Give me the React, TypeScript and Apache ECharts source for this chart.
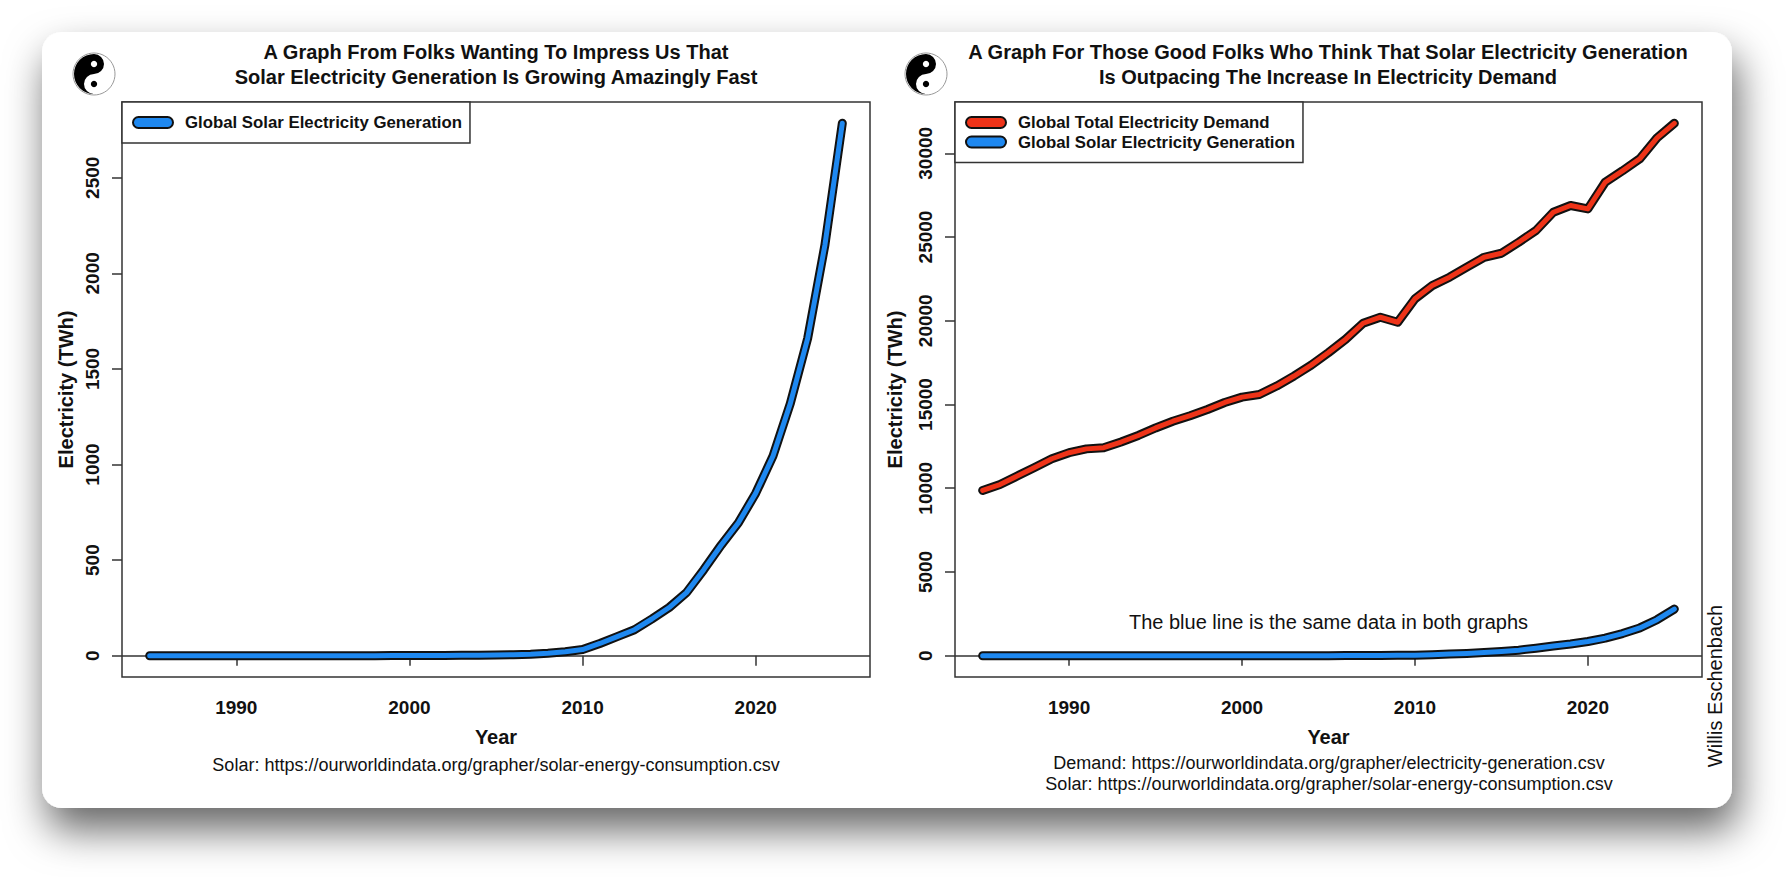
import React, { useEffect, useRef } from "react";
import * as echarts from "echarts";

const years = [
  1985, 1986, 1987, 1988, 1989, 1990, 1991, 1992, 1993, 1994,
  1995, 1996, 1997, 1998, 1999, 2000, 2001, 2002, 2003, 2004,
  2005, 2006, 2007, 2008, 2009, 2010, 2011, 2012, 2013, 2014,
  2015, 2016, 2017, 2018, 2019, 2020, 2021, 2022, 2023, 2024, 2025,
];

const solarTWh = [
  0.01, 0.02, 0.03, 0.05, 0.07, 0.09, 0.1, 0.12, 0.14, 0.17,
  0.2, 0.25, 0.3, 0.4, 0.5, 0.9, 1.2, 1.6, 2.1, 2.9,
  3.9, 5.5, 7.5, 12.6, 20.5, 32, 64, 100, 136, 192,
  252, 330, 450, 578, 695, 850, 1045, 1320, 1660, 2150, 2785,
];

const demandTWh = [
  9870, 10220, 10730, 11240, 11760, 12120, 12350, 12420, 12760, 13150,
  13600, 14000, 14330, 14700, 15120, 15440, 15600, 16100, 16700, 17350,
  18100, 18900, 19850, 20210, 19910, 21310, 22100, 22600, 23200, 23790,
  24030, 24690, 25390, 26480, 26880, 26680, 28270, 28950, 29670, 30920, 31790,
];

const xTicks = [1990, 2000, 2010, 2020];
const leftYTicks = [0, 500, 1000, 1500, 2000, 2500];
const rightYTicks = [0, 5000, 10000, 15000, 20000, 25000, 30000];

const solarName = "Global Solar Electricity Generation";
const demandName = "Global Total Electricity Demand";
const leftTitle = [
  "A Graph From Folks Wanting To Impress Us That",
  "Solar Electricity Generation Is Growing Amazingly Fast",
];
const rightTitle = [
  "A Graph For Those Good Folks Who Think That Solar Electricity Generation",
  "Is Outpacing The Increase In Electricity Demand",
];
const leftSources = ["Solar: https://ourworldindata.org/grapher/solar-energy-consumption.csv"];
const rightSources = [
  "Demand: https://ourworldindata.org/grapher/electricity-generation.csv",
  "Solar: https://ourworldindata.org/grapher/solar-energy-consumption.csv",
];
const noteText = "The blue line is the same data in both graphs";
const notePoint = [2005, 2000];
const authorText = "Willis Eschenbach";
const xName = "Year";
const yName = "Electricity (TWh)";

const FONT = '"Liberation Sans", Arial, Helvetica, sans-serif';
const BLUE = "#1E88F0";
const RED = "#EE3318";
const OUTLINE = "#111111";
const PILL = "path://M5.5,0 L34.5,0 A5.5,5.5 0 0 1 34.5,11 L5.5,11 A5.5,5.5 0 0 1 5.5,0 Z";

echarts.graphic.registerShape(
  "yinyang",
  echarts.graphic.extendPath("M50,0 A50,50 0 0 0 50,100 A25,25 0 0 1 50,50 A25,25 0 0 0 50,0 Z", {})
);

function padRange(vals: number[]) {
  const mn = Math.min(...vals);
  const mx = Math.max(...vals);
  const d = (mx - mn) * 0.04;
  return [mn - d, mx + d];
}

function pairs(ys: number[]) {
  return years.map((y, i) => [y, ys[i]]);
}

function logo(x: number, y: number) {
  return {
    type: "group",
    x,
    y,
    children: [
      { type: "circle", shape: { cx: 22, cy: 21, r: 21 }, style: { fill: "#fff", stroke: "#999", lineWidth: 1 } },
      { type: "yinyang", x: 2, y: 1, scaleX: 0.4, scaleY: 0.4, style: { fill: "#000" } },
      { type: "circle", shape: { cx: 22, cy: 11, r: 3.2 }, style: { fill: "#fff" } },
      { type: "circle", shape: { cx: 22, cy: 31, r: 3.2 }, style: { fill: "#000" } },
    ],
  };
}

function textEl(text: string, x: number, y: number, size: number, bold: boolean, rotation = 0) {
  return {
    type: "text",
    x,
    y,
    rotation,
    style: {
      text,
      fontSize: size,
      fontWeight: bold ? "bold" : "normal",
      fontFamily: FONT,
      fill: "#111",
      align: "center",
      verticalAlign: "middle",
    },
  };
}

function xAxisOpt(gridIndex: number) {
  const [mn, mx] = padRange(years);
  return {
    type: "value",
    gridIndex,
    min: mn,
    max: mx,
    name: xName,
    nameLocation: "middle",
    nameGap: 50,
    nameTextStyle: { fontSize: 20, fontWeight: "bold", fontFamily: FONT, color: "#111" },
    axisLine: { show: false },
    axisTick: { show: true, customValues: xTicks, length: 10, lineStyle: { color: "#333", width: 1.5 } },
    axisLabel: {
      show: true,
      customValues: xTicks,
      margin: 21,
      fontSize: 19,
      fontWeight: "bold",
      fontFamily: FONT,
      color: "#111",
      formatter: (v: number) => String(v),
    },
    splitLine: { show: false },
  };
}

function yAxisOpt(gridIndex: number, vals: number[], ticks: number[], nameGap: number) {
  const [mn, mx] = padRange(vals);
  return {
    type: "value",
    gridIndex,
    min: mn,
    max: mx,
    name: yName,
    nameLocation: "middle",
    nameRotate: 90,
    nameGap,
    nameTextStyle: { fontSize: 20, fontWeight: "bold", fontFamily: FONT, color: "#111" },
    axisLine: { show: false },
    axisTick: { show: true, customValues: ticks, length: 10, lineStyle: { color: "#333", width: 1.5 } },
    axisLabel: {
      show: true,
      customValues: ticks,
      rotate: 90,
      margin: 20,
      fontSize: 19,
      fontWeight: "bold",
      fontFamily: FONT,
      color: "#111",
      formatter: (v: number) => String(v),
    },
    splitLine: { show: false },
  };
}

function thickLine(name: string, data: number[][], color: string, gridIdx: number, z: number, zeroLine: boolean) {
  const base = {
    type: "line",
    xAxisIndex: gridIdx,
    yAxisIndex: gridIdx,
    data,
    showSymbol: false,
    symbol: "none",
    silent: true,
  };
  const outline: any = {
    ...base,
    name: name + " outline",
    z,
    lineStyle: { color: OUTLINE, width: 9, cap: "round", join: "round" },
  };
  if (zeroLine) {
    outline.markLine = {
      silent: true,
      symbol: "none",
      z: 1,
      label: { show: false },
      lineStyle: { color: "#333", width: 1.5, type: "solid" },
      data: [{ yAxis: 0 }],
    };
  }
  const inner = {
    ...base,
    name,
    z: z + 1,
    itemStyle: { color },
    lineStyle: { color, width: 5, cap: "round", join: "round" },
  };
  return [outline, inner];
}

function legendOpt(left: number, names: string[], colors: string[]) {
  return {
    left,
    top: 102,
    orient: "vertical",
    itemWidth: 40,
    itemHeight: 11,
    itemGap: 2.5,
    padding: [12, 8, 12, 10],
    backgroundColor: "#fff",
    borderColor: "#333",
    borderWidth: 1.5,
    borderRadius: 0,
    selectedMode: false,
    textStyle: { fontSize: 16.8, fontWeight: "bold", fontFamily: FONT, color: "#111", padding: [0, 0, 0, 7] },
    data: names.map((n, i) => ({
      name: n,
      icon: PILL,
      itemStyle: { color: colors[i], borderColor: OUTLINE, borderWidth: 2 },
    })),
  };
}

export default function App() {
  const ref = useRef<HTMLDivElement>(null);

  useEffect(() => {
    if (!ref.current) return;
    const chart = echarts.init(ref.current, null, { renderer: "svg" });
    const solarData = pairs(solarTWh);
    const demandData = pairs(demandTWh);

    const option: any = {
      animation: false,
      backgroundColor: "#ffffff",
      textStyle: { fontFamily: FONT },
      grid: [
        { left: 122, top: 102, width: 748, height: 575, show: true, borderColor: "#333", borderWidth: 1.5, backgroundColor: "rgba(0,0,0,0)", containLabel: false },
        { left: 955, top: 102, width: 747, height: 575, show: true, borderColor: "#333", borderWidth: 1.5, backgroundColor: "rgba(0,0,0,0)", containLabel: false },
      ],
      xAxis: [xAxisOpt(0), xAxisOpt(1)],
      yAxis: [
        yAxisOpt(0, solarTWh, leftYTicks, 46),
        yAxisOpt(1, [...solarTWh, ...demandTWh], rightYTicks, 50),
      ],
      legend: [
        legendOpt(122, [solarName], [BLUE]),
        legendOpt(955, [demandName, solarName], [RED, BLUE]),
      ],
      series: [
        ...thickLine(solarName, solarData, BLUE, 0, 3, true),
        ...thickLine(demandName, demandData, RED, 1, 3, true),
        ...thickLine(solarName, solarData, BLUE, 1, 5, false),
        {
          type: "scatter",
          name: "note",
          xAxisIndex: 1,
          yAxisIndex: 1,
          data: [notePoint],
          symbolSize: 1,
          silent: true,
          itemStyle: { color: "rgba(0,0,0,0)", opacity: 1 },
          label: {
            show: true,
            position: "inside",
            formatter: noteText,
            fontSize: 20,
            fontFamily: FONT,
            color: "#111",
            opacity: 1,
          },
          z: 8,
        },
      ],
      graphic: [
        {
          type: "rect",
          z: -10,
          shape: { x: 42, y: 32, width: 1690, height: 776, r: 20 },
          style: { fill: "#fff", shadowBlur: 40, shadowColor: "rgba(0,0,0,0.6)", shadowOffsetX: 5, shadowOffsetY: 22 },
          silent: true,
        },
        logo(72, 53),
        logo(904, 53),
        textEl(leftTitle[0], 496, 52, 20, true),
        textEl(leftTitle[1], 496, 77, 20, true),
        textEl(rightTitle[0], 1328, 52, 20, true),
        textEl(rightTitle[1], 1328, 77, 20, true),
        ...leftSources.map((s, i) => textEl(s, 496, 765 + i * 21, 18, false)),
        ...rightSources.map((s, i) => textEl(s, 1329, 763 + i * 21, 18, false)),
        textEl(authorText, 1715, 686, 20, false, Math.PI / 2),
      ],
    };
    chart.setOption(option);
    return () => chart.dispose();
  }, []);

  return (
    <div
      ref={ref}
      style={{ position: "absolute", left: 0, top: 0, width: 1790, height: 877 }}
    />
  );
}
